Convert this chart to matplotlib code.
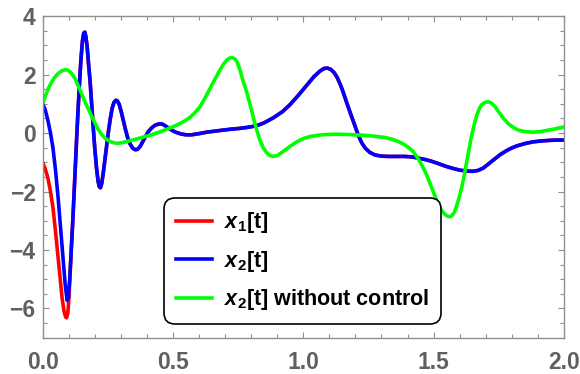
import matplotlib
matplotlib.use("Agg")
import matplotlib.pyplot as plt
from matplotlib.lines import Line2D
from matplotlib.ticker import MultipleLocator

# x2[t] with control
t_x2 = [0.000, 0.010, 0.020, 0.030, 0.040, 0.050, 0.060, 0.070, 0.080, 0.087,
        0.094, 0.099, 0.104, 0.110, 0.117, 0.123, 0.129, 0.135, 0.141, 0.147,
        0.153, 0.158, 0.162, 0.166, 0.171, 0.176, 0.182, 0.187, 0.193, 0.200,
        0.207, 0.213, 0.218, 0.222, 0.227, 0.233, 0.240, 0.247, 0.253, 0.260,
        0.267, 0.274, 0.281, 0.287, 0.294, 0.302, 0.310, 0.318, 0.327, 0.336,
        0.346, 0.356, 0.364, 0.375, 0.385, 0.395, 0.405, 0.418, 0.430, 0.445,
        0.458, 0.470, 0.483, 0.495, 0.510, 0.530, 0.550, 0.572, 0.600, 0.630,
        0.674, 0.720, 0.757, 0.790, 0.821, 0.850, 0.885, 0.920, 0.949, 0.980,
        1.013, 1.040, 1.064, 1.080, 1.093, 1.105, 1.118, 1.130, 1.142, 1.153,
        1.165, 1.179, 1.190, 1.200, 1.211, 1.224, 1.237, 1.255, 1.275, 1.300,
        1.326, 1.360, 1.390, 1.420, 1.441, 1.470, 1.493, 1.520, 1.544, 1.570,
        1.600, 1.627, 1.650, 1.670, 1.690, 1.710, 1.735, 1.755, 1.780, 1.800,
        1.819, 1.850, 1.882, 1.915, 1.946, 1.975, 2.000]
y_x2 = [1.00, 0.80, 0.45, 0.02, -0.52, -1.30, -2.25, -3.35, -4.45, -5.20,
        -5.72, -5.62, -5.05, -4.00, -2.80, -1.65, -0.50, 0.60, 1.60, 2.50,
        3.15, 3.42, 3.45, 3.30, 2.95, 2.40, 1.80, 1.15, 0.35, -0.50,
        -1.20, -1.65, -1.84, -1.87, -1.72, -1.35, -0.85, -0.35, 0.08, 0.50,
        0.85, 1.05, 1.12, 1.10, 0.98, 0.72, 0.42, 0.12, -0.18, -0.38,
        -0.52, -0.57, -0.56, -0.45, -0.28, -0.12, 0.04, 0.17, 0.26, 0.31,
        0.31, 0.25, 0.17, 0.10, 0.03, -0.03, -0.06, -0.06, -0.02, 0.03,
        0.08, 0.13, 0.16, 0.20, 0.25, 0.35, 0.52, 0.73, 0.97, 1.28,
        1.63, 1.92, 2.12, 2.21, 2.22, 2.18, 2.07, 1.90, 1.66, 1.40,
        1.08, 0.72, 0.45, 0.20, -0.08, -0.33, -0.51, -0.66, -0.75, -0.79,
        -0.80, -0.80, -0.80, -0.82, -0.86, -0.91, -0.97, -1.05, -1.13, -1.20,
        -1.27, -1.30, -1.31, -1.28, -1.20, -1.06, -0.88, -0.74, -0.60, -0.51,
        -0.44, -0.36, -0.30, -0.27, -0.25, -0.24, -0.24]

# x1[t]: its own start, then it runs on top of x2[t]
t_x1_head = [0.000, 0.010, 0.020, 0.030, 0.040, 0.050, 0.060, 0.068, 0.075,
             0.082, 0.088, 0.092, 0.097, 0.101]
y_x1_head = [-1.00, -1.22, -1.52, -1.98, -2.56, -3.40, -4.30, -5.05, -5.65,
             -6.08, -6.28, -6.32, -6.15, -5.65]
x1_joins_at = 0.104

# x2[t] without control
t_free = [0.000, 0.010, 0.021, 0.033, 0.046, 0.060, 0.072, 0.084, 0.094, 0.105,
          0.117, 0.127, 0.136, 0.148, 0.161, 0.174, 0.187, 0.200, 0.213, 0.226,
          0.238, 0.251, 0.264, 0.277, 0.289, 0.305, 0.328, 0.354, 0.385, 0.418,
          0.450, 0.482, 0.515, 0.546, 0.566, 0.585, 0.604, 0.623, 0.642, 0.661,
          0.677, 0.693, 0.706, 0.716, 0.727, 0.737, 0.746, 0.755, 0.763, 0.770,
          0.776, 0.786, 0.796, 0.806, 0.815, 0.825, 0.834, 0.846, 0.860, 0.872,
          0.885, 0.900, 0.923, 0.950, 0.975, 1.000, 1.026, 1.060, 1.090, 1.130,
          1.166, 1.200, 1.237, 1.275, 1.313, 1.340, 1.364, 1.385, 1.403, 1.420,
          1.435, 1.450, 1.467, 1.480, 1.493, 1.506, 1.518, 1.531, 1.544, 1.555,
          1.563, 1.571, 1.580, 1.588, 1.598, 1.608, 1.618, 1.627, 1.637, 1.646,
          1.656, 1.665, 1.675, 1.684, 1.697, 1.710, 1.722, 1.735, 1.750, 1.767,
          1.785, 1.806, 1.825, 1.844, 1.863, 1.882, 1.910, 1.934, 1.965, 2.000]
y_free = [1.00, 1.25, 1.50, 1.72, 1.90, 2.04, 2.12, 2.16, 2.16, 2.10,
          1.97, 1.82, 1.63, 1.38, 1.10, 0.85, 0.60, 0.36, 0.13, -0.04,
          -0.16, -0.25, -0.31, -0.34, -0.35, -0.33, -0.28, -0.22, -0.14, -0.06,
          0.04, 0.15, 0.27, 0.42, 0.54, 0.70, 0.90, 1.20, 1.52, 1.84,
          2.10, 2.34, 2.49, 2.56, 2.58, 2.54, 2.43, 2.22, 1.97, 1.76,
          1.60, 1.30, 0.97, 0.62, 0.30, 0.00, -0.25, -0.50, -0.68, -0.77,
          -0.80, -0.77, -0.63, -0.45, -0.30, -0.19, -0.12, -0.07, -0.05, -0.04,
          -0.05, -0.06, -0.08, -0.11, -0.15, -0.21, -0.29, -0.38, -0.49, -0.62,
          -0.80, -1.02, -1.31, -1.58, -1.88, -2.17, -2.45, -2.65, -2.79, -2.85,
          -2.86, -2.82, -2.70, -2.50, -2.20, -1.85, -1.42, -0.97, -0.50, -0.08,
          0.30, 0.60, 0.83, 0.97, 1.05, 1.07, 1.02, 0.91, 0.72, 0.51,
          0.33, 0.19, 0.10, 0.06, 0.04, 0.03, 0.05, 0.09, 0.14, 0.21]

labels = [r"$\mathbfit{x}_{\mathbf{1}}$[t]",
          r"$\mathbfit{x}_{\mathbf{2}}$[t]",
          r"$\mathbfit{x}_{\mathbf{2}}$[t] without control"]
colors = ["#ff0000", "#0000ff", "#00ff00"]

x_ticks = [0.0, 0.5, 1.0, 1.5, 2.0]
x_tick_labels = ["0.0", "0.5", "1.0", "1.5", "2.0"]
y_ticks = [-6, -4, -2, 0, 2, 4]

plt.rcParams["font.family"] = ["Liberation Sans", "DejaVu Sans"]
plt.rcParams["mathtext.fontset"] = "custom"
plt.rcParams["mathtext.rm"] = "Liberation Sans:bold"
plt.rcParams["mathtext.bf"] = "Liberation Sans:bold"
plt.rcParams["mathtext.it"] = "Liberation Sans:italic:bold"
plt.rcParams["mathtext.bfit"] = "Liberation Sans:italic:bold"

# assemble x1 from its head and the shared tail
k = next(i for i, t in enumerate(t_x2) if t >= x1_joins_at)
t_x1 = t_x1_head + t_x2[k:]
y_x1 = y_x1_head + y_x2[k:]

fig = plt.figure(figsize=(5.8, 3.74), dpi=100)
ax = fig.add_axes([0.0734, 0.097, 0.899, 0.860])

lw = 2.6
ax.plot(t_x1, y_x1, color=colors[0], lw=lw, solid_capstyle="round")
ax.plot(t_x2, y_x2, color=colors[1], lw=lw, solid_capstyle="round")
ax.plot(t_free, y_free, color=colors[2], lw=lw, solid_capstyle="round")

ax.set_xlim(0, 2)
ax.set_ylim(-7, 4)

frame_col = "#8f8f8f"
label_col = "#606060"
for s in ax.spines.values():
    s.set_color(frame_col)
    s.set_linewidth(1.0)

ax.set_xticks(x_ticks)
ax.set_xticklabels(x_tick_labels)
ax.set_yticks(y_ticks)
ax.xaxis.set_minor_locator(MultipleLocator(0.1))
ax.yaxis.set_minor_locator(MultipleLocator(0.5))
ax.tick_params(which="both", direction="in", top=True, right=True,
               color=frame_col, width=0.8)
ax.tick_params(which="major", length=4.5)
ax.tick_params(which="minor", length=2.7)
ax.tick_params(axis="x", pad=9.5)
ax.tick_params(axis="y", pad=5)
for lab in ax.get_xticklabels() + ax.get_yticklabels():
    lab.set_fontsize(16.5)
    lab.set_fontweight("bold")
    lab.set_color(label_col)

handles = [Line2D([], [], color=c, lw=2.6) for c in colors]
leg = ax.legend(handles, labels, loc="lower left",
                bbox_to_anchor=(0.233, 0.0426), borderaxespad=0,
                prop={"family": "Liberation Sans", "weight": "bold", "size": 15.5},
                handlelength=1.67, handletextpad=0.56, labelspacing=0.63,
                borderpad=0.55, fancybox=True, framealpha=1,
                edgecolor="black")
frame = leg.get_frame()
frame.set_linewidth(1.2)
frame.set_boxstyle("round,pad=0,rounding_size=0.5")

fig.savefig("out.png", dpi=100)
